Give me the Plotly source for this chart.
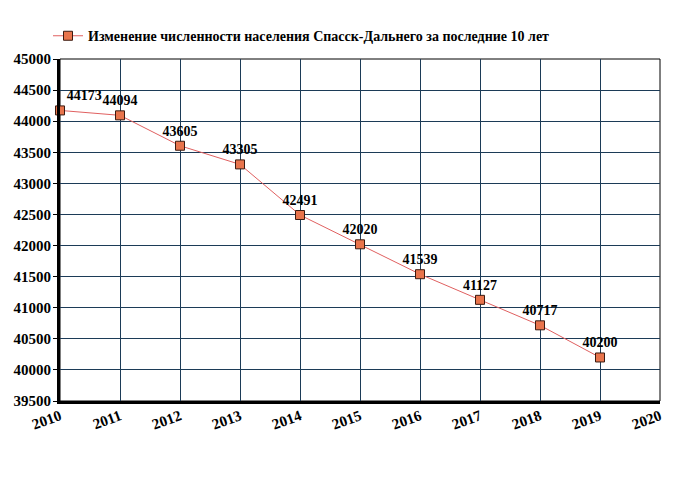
import plotly.graph_objects as go

years = [2010, 2011, 2012, 2013, 2014, 2015, 2016, 2017, 2018, 2019]
population = [44173, 44094, 43605, 43305, 42491, 42020, 41539, 41127, 40717, 40200]
x_ticks = list(range(2010, 2021))
y_ticks = list(range(39500, 45001, 500))
series_name = "Изменение численности населения Спасск-Дальнего за последние 10 лет"

positions = ["top right"] + ["top center"] * (len(years) - 1)

fig = go.Figure()
fig.add_trace(go.Scatter(
    x=years, y=population, mode="lines+markers+text",
    name=series_name,
    text=[str(v) for v in population],
    textposition=positions,
    textfont=dict(family="Liberation Serif", size=14, color="black", weight="bold"),
    line=dict(color="#e06060", width=1),
    marker=dict(symbol="square", size=9, color="#e8744c", line=dict(color="#3a1a10", width=1)),
    cliponaxis=False,
))

fig.update_layout(
    width=680, height=500,
    margin=dict(l=52, r=28, t=49, b=107),
    paper_bgcolor="white", plot_bgcolor="white",
    font=dict(family="Liberation Serif", size=13, color="black"),
    showlegend=True,
    legend=dict(orientation="h", x=-0.02, xanchor="left", y=1.02, yanchor="bottom",
                font=dict(family="Liberation Serif", size=14, color="black", weight="bold")),
    xaxis=dict(range=[2010, 2020], tickvals=x_ticks, ticktext=[str(t) for t in x_ticks],
               tickangle=-20, showgrid=True, gridcolor="#1c3b57", gridwidth=1,
               showline=True, linecolor="black", linewidth=3, mirror=False,
               ticks="", automargin=False, ticklabelstandoff=-2,
               tickfont=dict(family="Liberation Serif", size=15, color="black", weight="bold"),
               zeroline=False),
    yaxis=dict(range=[39500, 45000], tickvals=y_ticks, ticktext=[str(t) for t in y_ticks],
               showgrid=True, gridcolor="#1c3b57", gridwidth=1,
               showline=True, linecolor="black", linewidth=3, automargin=False,
               ticks="outside", ticklen=4, tickcolor="black", ticklabelstandoff=-1,
               tickfont=dict(family="Liberation Serif", size=15, color="black", weight="bold"),
               zeroline=False),
)
fig.add_shape(type="rect", xref="paper", yref="paper", x0=0, y0=0, x1=1, y1=1,
              line=dict(color="black", width=1), layer="below")

fig.write_html("out.html")
